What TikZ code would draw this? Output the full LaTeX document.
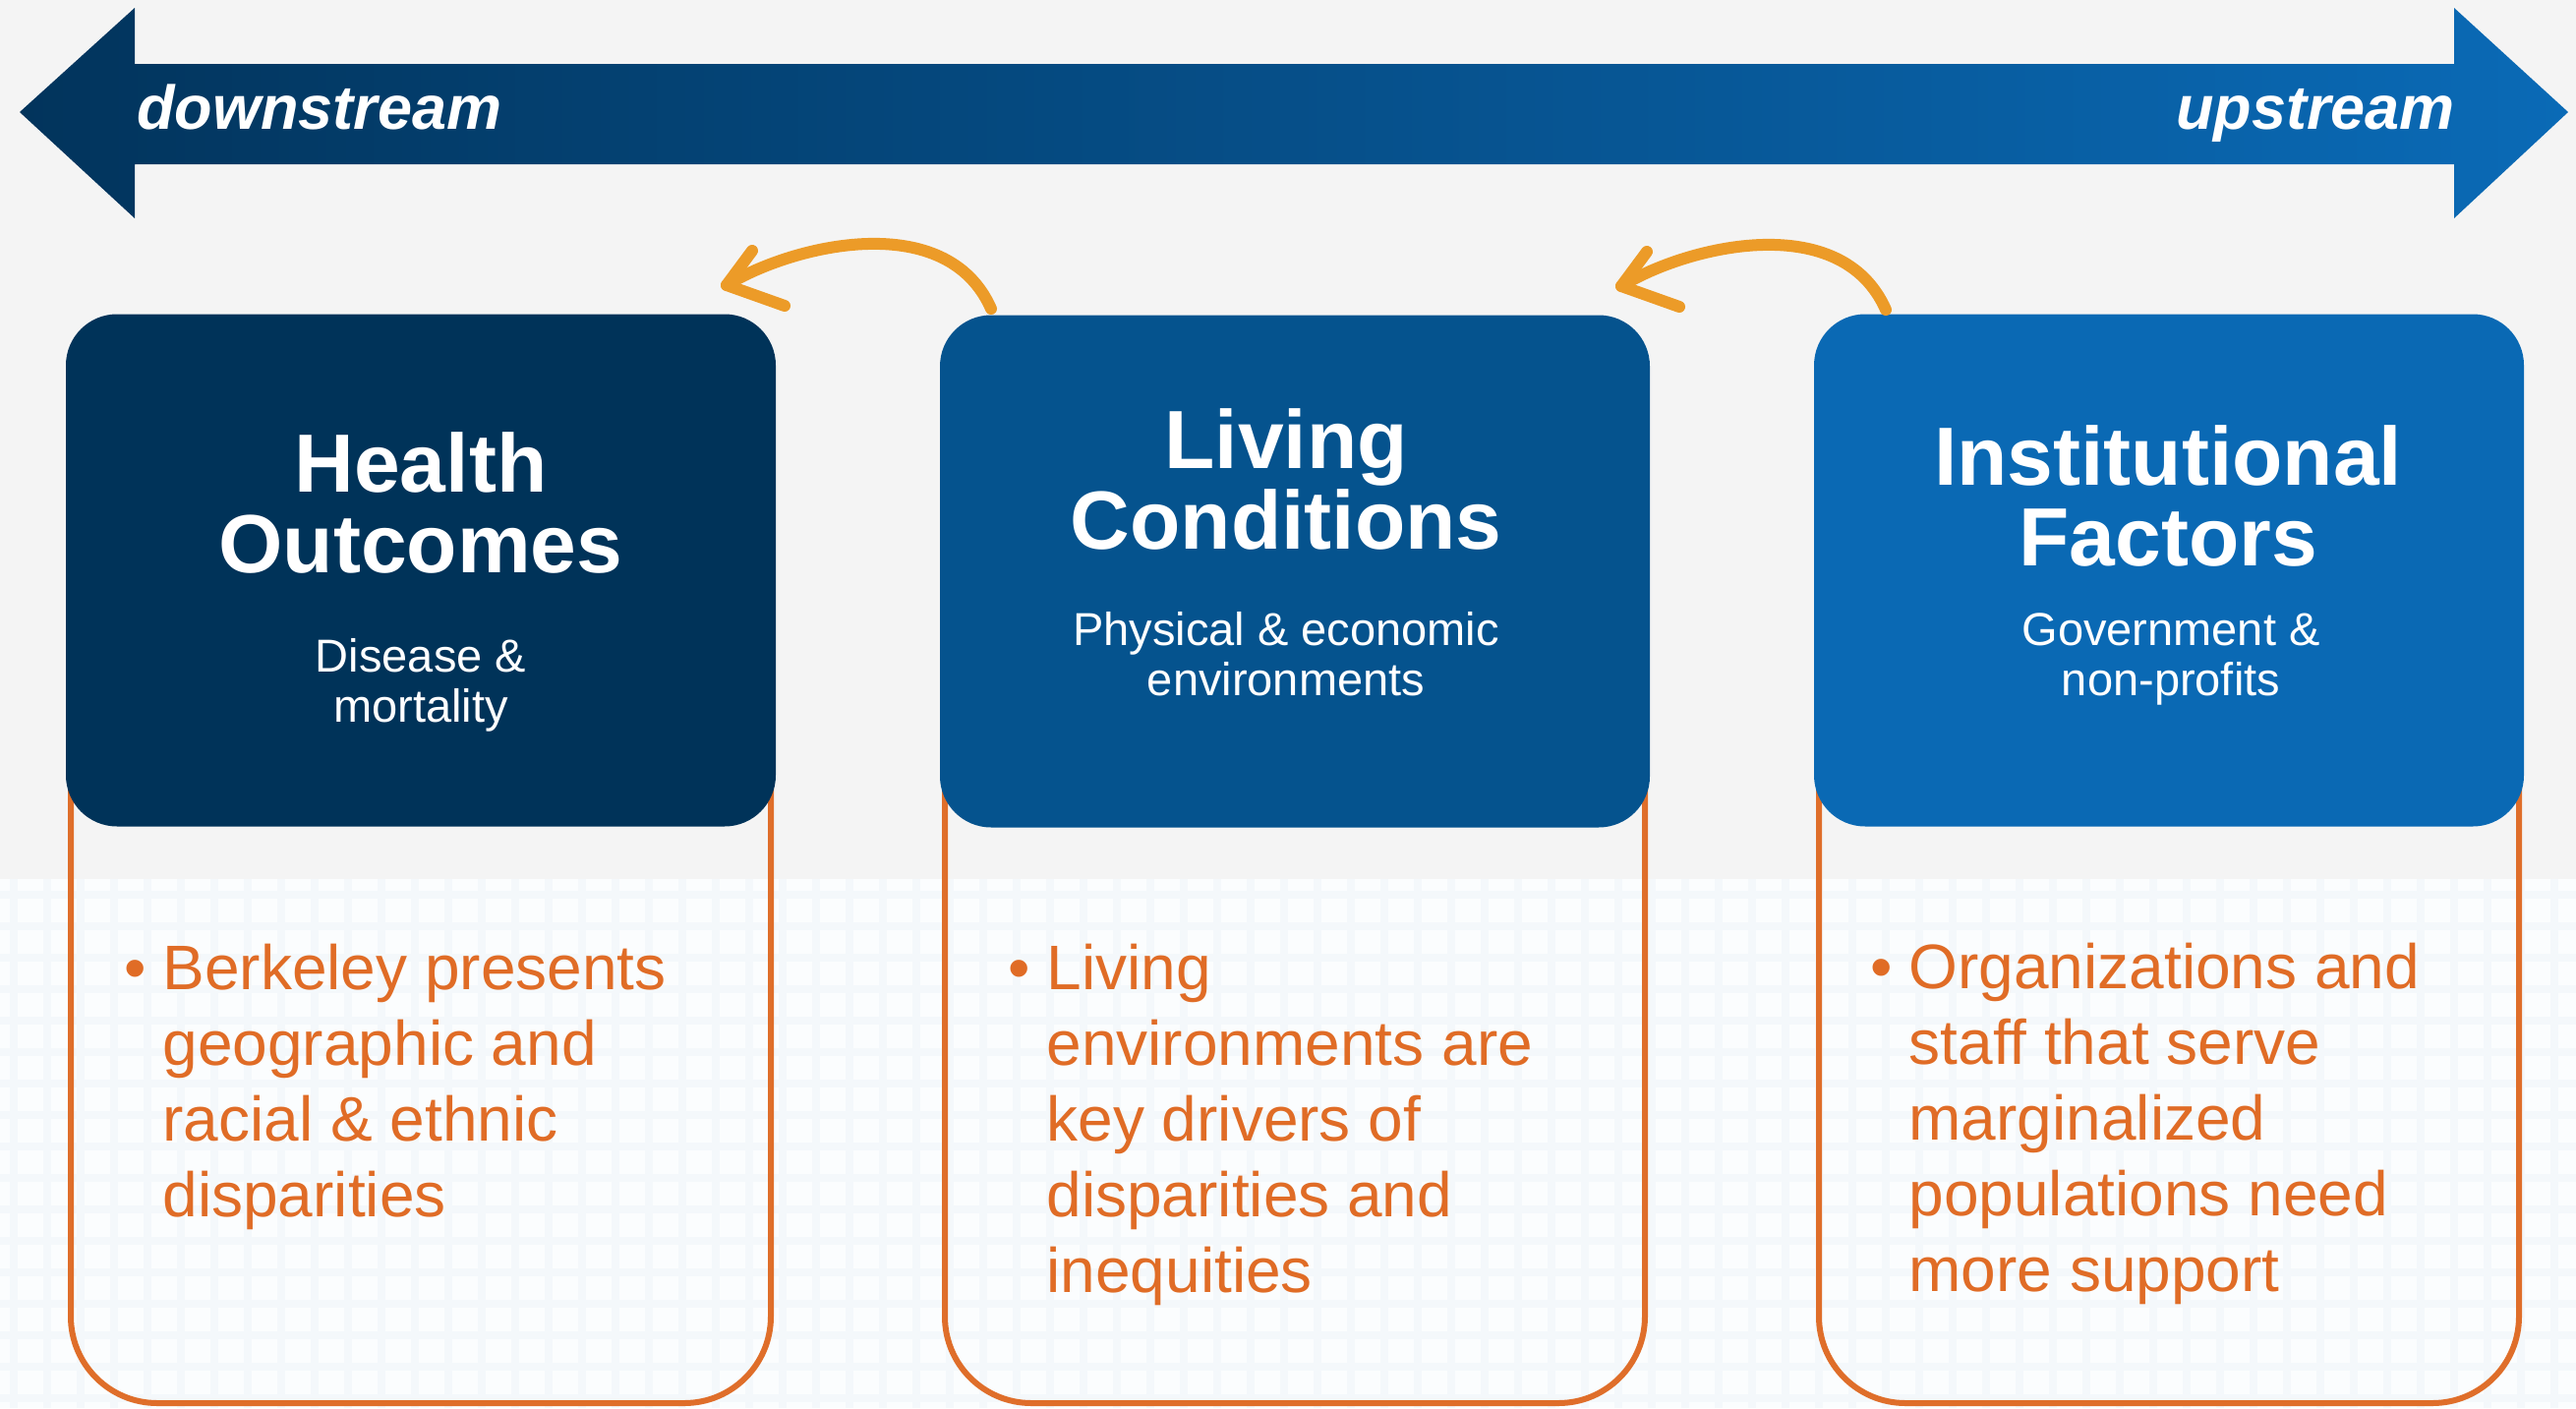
\documentclass[tikz,border=0pt]{standalone}
\usepackage{fontspec}
\setmainfont{Liberation Sans}
\definecolor{bgtop}{HTML}{F4F4F4}
\definecolor{bgbot}{HTML}{FBFDFE}
\definecolor{gridc}{HTML}{F4F8FB}
\definecolor{arrL}{HTML}{02345C}
\definecolor{arrR}{HTML}{0A6AB6}
\definecolor{cOne}{HTML}{003359}
\definecolor{cTwo}{HTML}{05538E}
\definecolor{cThree}{HTML}{0A69B4}
\definecolor{orline}{HTML}{DF6E2A}
\definecolor{ortext}{HTML}{E06C26}
\definecolor{curvc}{HTML}{EC9B28}
\begin{document}
\begin{tikzpicture}[x=1pt,y=-1pt,
  gridline/.style={draw=gridc,line width=8pt},
  streamlabel/.style={text=white,inner sep=0pt,font=\bfseries\itshape\fontsize{63}{70}\selectfont},
  listbox/.style={draw=orline,line width=6pt,rounded corners=88pt,minimum width=712pt,minimum height=1008pt,inner sep=0pt},
  headbox/.style={rounded corners=52pt,minimum width=722pt,minimum height=521pt,inner sep=0pt},
  titletext/.style={text=white,inner sep=0pt,font=\bfseries\fontsize{84}{82}\selectfont},
  subtext/.style={text=white,inner sep=0pt,font=\fontsize{47}{51}\selectfont},
  bullettext/.style={text=ortext,inner sep=0pt,font=\fontsize{64}{77}\selectfont},
  curv/.style={draw=curvc,line width=12pt,line cap=round},
  curvhead/.style={draw=curvc,line width=12pt,line cap=round,line join=round}]
\useasboundingbox (0,0) rectangle (2620,1432);
% background
\fill[bgtop] (0,0) rectangle (2620,894);
\fill[bgbot] (0,894) rectangle (2620,1432);
\begin{scope}
\clip (0,894) rectangle (2620,1432);
\foreach \x in {14,48,...,2620} \draw[gridline] (\x,894) -- (\x,1432);
\foreach \y in {910,942,...,1432} \draw[gridline] (0,\y) -- (2620,\y);
\end{scope}
% top double arrow
\shade[left color=arrL,right color=arrR] (20,114) -- (137,8) -- (137,65) -- (2496,65) -- (2496,8) -- (2612,114) -- (2496,222) -- (2496,167) -- (137,167) -- (137,222) -- cycle;
\node[streamlabel,anchor=base west] (down) at (139,131) {downstream};
\node[streamlabel,anchor=base east] (up) at (2497,131) {upstream};
% list boxes (orange outlines)
\node[listbox] (l1) at (428,923) {};
\node[listbox] (l2) at (1317,923) {};
\node[listbox] (l3) at (2206,923) {};
% heading boxes
\node[headbox,fill=cOne] (h1) at (428,580) {};
\node[headbox,fill=cTwo] (h2) at (1317,581) {};
\node[headbox,fill=cThree] (h3) at (2206,580) {};
% titles
\node[titletext,anchor=base] (t1) at (428,500) {\parbox[t]{700pt}{\centering Health\\Outcomes}};
\node[titletext,anchor=base] (t2) at (1308,476) {\parbox[t]{700pt}{\centering Living\\Conditions}};
\node[titletext,anchor=base] (t3) at (2205,493) {\parbox[t]{700pt}{\centering Institutional\\Factors}};
% subtitles
\node[subtext,anchor=base] (s1) at (428,683) {\parbox[t]{700pt}{\centering Disease \&\\mortality}};
\node[subtext,anchor=base] (s2) at (1308,656) {\parbox[t]{700pt}{\centering Physical \& economic\\environments}};
\node[subtext,anchor=base] (s3) at (2208,656) {\parbox[t]{700pt}{\centering Government \&\\non-profits}};
% bullet texts
\node[bullettext,anchor=base west] (b1) at (126,1006) {\begin{tabular}[t]{@{}l@{\hspace{17pt}}l@{}}\textbullet & Berkeley presents\\ & geographic and\\ & racial \& ethnic\\ & disparities\end{tabular}};
\node[bullettext,anchor=base west] (b2) at (1025,1006) {\begin{tabular}[t]{@{}l@{\hspace{17pt}}l@{}}\textbullet & Living\\ & environments are\\ & key drivers of\\ & disparities and\\ & inequities\end{tabular}};
\node[bullettext,anchor=base west] (b3) at (1902,1005) {\begin{tabular}[t]{@{}l@{\hspace{17pt}}l@{}}\textbullet & Organizations and\\ & staff that serve\\ & marginalized\\ & populations need\\ & more support\end{tabular}};
% curved arrows
\coordinate (aAs) at (1008,314);
\coordinate (aAt) at (739,290);
\coordinate (aAu) at (765,255);
\coordinate (aAl) at (798,311);
\draw[curv] (aAs) .. controls (963,212) and (808,248) .. (aAt);
\draw[curvhead] (aAu) -- (aAt) -- (aAl);
\coordinate (aBs) at (1918,315);
\coordinate (aBt) at (1649,291);
\coordinate (aBu) at (1675,256);
\coordinate (aBl) at (1708,312);
\draw[curv] (aBs) .. controls (1873,213) and (1718,249) .. (aBt);
\draw[curvhead] (aBu) -- (aBt) -- (aBl);
\end{tikzpicture}
\end{document}
